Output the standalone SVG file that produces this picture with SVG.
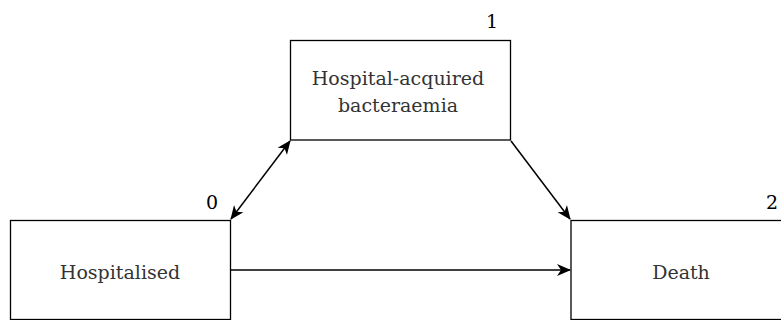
<svg xmlns="http://www.w3.org/2000/svg" width="781" height="320" viewBox="0 0 781 320">
<style>
.box{fill:#fff;stroke:#000;stroke-width:1.3}
.lbl{font-family:"DejaVu Serif",serif;font-size:19px;fill:#333;text-anchor:middle}
.num{font-family:"DejaVu Serif",serif;font-size:19px;fill:#000;text-anchor:end}
.edge{fill:none;stroke:#000;stroke-width:1.5}
</style>
<defs>
<marker id="ah" viewBox="0 0 14 12" refX="13" refY="6" markerWidth="14" markerHeight="12" markerUnits="userSpaceOnUse" orient="auto-start-reverse">
<path d="M0,0 L14,6 L0,12 L4,6 Z" fill="#000"/>
</marker>
</defs>
<rect width="781" height="320" fill="#fff"/>
<g id="connectors">
<line class="edge" x1="231" y1="219" x2="290" y2="141" marker-start="url(#ah)" marker-end="url(#ah)"/>
<line class="edge" x1="511" y1="141" x2="570" y2="219" marker-end="url(#ah)"/>
<line class="edge" x1="231" y1="270" x2="570" y2="270" marker-end="url(#ah)"/>
</g>
<g id="node-hospitalised">
<rect class="box" x="10.5" y="220.5" width="220" height="99"/>
<text class="lbl" x="120" y="279">Hospitalised</text>
<text class="num" x="218" y="209">0</text>
</g>
<g id="node-bacteraemia">
<rect class="box" x="290.5" y="40.5" width="220" height="99.5"/>
<text class="lbl" x="398" y="85">Hospital-acquired</text>
<text class="lbl" x="398" y="112">bacteraemia</text>
<text class="num" x="498" y="28">1</text>
</g>
<g id="node-death">
<rect class="box" x="571" y="220.5" width="220" height="99"/>
<text class="lbl" x="681" y="279">Death</text>
<text class="num" x="778" y="209">2</text>
</g>
</svg>
